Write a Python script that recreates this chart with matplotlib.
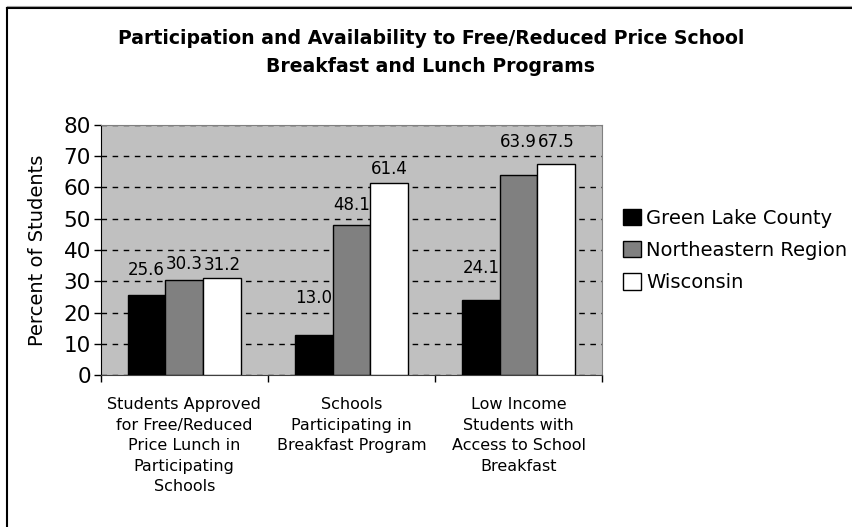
import matplotlib.pyplot as plt
import numpy as np
from matplotlib.lines import Line2D

categories = [
    "Students Approved\nfor Free/Reduced\nPrice Lunch in\nParticipating\nSchools",
    "Schools\nParticipating in\nBreakfast Program",
    "Low Income\nStudents with\nAccess to School\nBreakfast",
]
series_names = ["Green Lake County", "Northeastern Region", "Wisconsin"]
green_lake = [25.6, 13.0, 24.1]
northeastern = [30.3, 48.1, 63.9]
wisconsin = [31.2, 61.4, 67.5]
yticks = [0, 10, 20, 30, 40, 50, 60, 70, 80]

colors = ["#000000", "#808080", "#ffffff"]
# label gaps above each bar (pixels), as placed in the original chart
label_gaps = [[16, 28, 23], [7, 11, 24], [4, 5, 13]]

plt.rcParams["font.family"] = "DejaVu Sans"

fig = plt.figure(figsize=(8.53, 5.27), dpi=100)
# chart border is cropped: only the top and left edges are visible
fig.add_artist(Line2D([0.0085, 1.0], [0.9855, 0.9855], transform=fig.transFigure,
                      color="#000000", linewidth=1.5))
fig.add_artist(Line2D([0.0085, 1.0], [0.9895, 0.9895], transform=fig.transFigure,
                      color="#a0a0a0", linewidth=0.8))
fig.add_artist(Line2D([0.0085, 0.0085], [0.0, 0.9855], transform=fig.transFigure,
                      color="#000000", linewidth=1.5))

ax = fig.add_axes([0.118, 0.288, 0.588, 0.475])
ax.set_facecolor("#c0c0c0")

x = np.arange(len(categories))
width = 0.225
for i, (vals, name) in enumerate(zip([green_lake, northeastern, wisconsin], series_names)):
    bars = ax.bar(x + (i - 1) * width, vals, width, color=colors[i],
                  edgecolor="#000000", linewidth=1, label=name, zorder=3)
    for b, v, gap in zip(bars, vals, label_gaps[i]):
        ax.annotate(f"{v:.1f}", xy=(b.get_x() + b.get_width() / 2, v),
                    xytext=(0, gap), textcoords="offset pixels",
                    ha="center", va="bottom", fontsize=12)

ax.set_xlim(-0.5, 2.5)
ax.set_ylim(0, 80)
ax.set_yticks(yticks)
ax.tick_params(axis="y", labelsize=15.5, length=5, width=1, pad=2)
ax.yaxis.grid(True, color="#000000", linestyle=(0, (4, 4)), linewidth=1)
ax.set_axisbelow(True)

ax.set_xticks([-0.5, 0.5, 1.5, 2.5])
ax.set_xticklabels([])
ax.set_xticks(x, minor=True)
ax.set_xticklabels(categories, minor=True, fontsize=11.5, linespacing=1.45)
ax.tick_params(axis="x", which="major", length=5, width=1)
ax.tick_params(axis="x", which="minor", length=0, pad=16)

ax.spines["left"].set_color("#000000")
ax.spines["bottom"].set_color("#404040")
ax.spines["top"].set_color("#808080")
ax.spines["right"].set_color("#808080")

ax.set_ylabel("Percent of Students", fontsize=14, labelpad=12)

fig.suptitle("Participation and Availability to Free/Reduced Price School\nBreakfast and Lunch Programs",
             x=0.505, y=0.945, fontsize=13.6, fontweight="bold", linespacing=1.6)

leg = ax.legend(loc="upper left", bbox_to_anchor=(1.026, 0.696), frameon=False,
                fontsize=14, handlelength=0.9, handleheight=0.9, handletextpad=0.3,
                labelspacing=0.68, borderaxespad=0)

fig.savefig("out.png", dpi=100)
